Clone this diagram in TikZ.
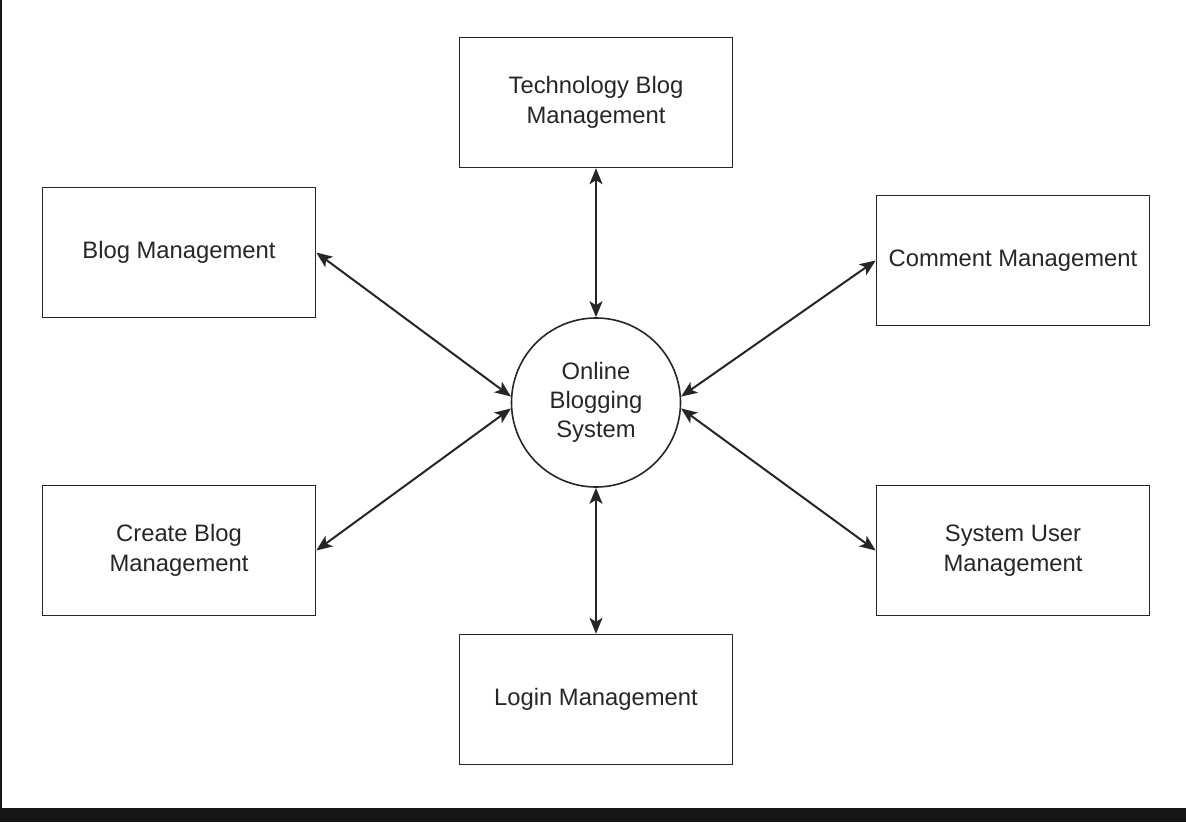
\documentclass[tikz,border=0pt]{standalone}
\usepackage{fontspec}
\setmainfont{Liberation Sans}
\usepackage{tikz}
\usetikzlibrary{arrows.meta,positioning}
\definecolor{framedark}{HTML}{171717}
\definecolor{inkgray}{HTML}{262626}
\tikzset{
  >={Stealth[length=16pt,width=13pt,inset=4pt]},
  module/.style={
    draw=inkgray, rectangle, align=center, inner sep=4pt, line width=1.6pt,
    font=\fontsize{23.8}{30}\selectfont, text=inkgray,
    minimum width=273pt, minimum height=130pt
  },
  hubnode/.style={
    draw=inkgray, circle, align=center, inner sep=0pt, line width=1.6pt,
    font=\fontsize{23.8}{29}\selectfont, text=inkgray, minimum size=169pt
  },
  link/.style={<->, draw=inkgray, line width=2pt},
}

\begin{document}
\begin{tikzpicture}[x=1pt,y=-1pt]
  \useasboundingbox (0,0) rectangle (1186,822);
  \fill[framedark] (0,808) rectangle (1186,822);
  \fill[framedark] (0,0) rectangle (1.6,808);
  % central process
  \node[hubnode] (hub) at (596,402.5) {Online\\Blogging\\System};
  % modules
  \node[module, above=149pt of hub] (tech) {Technology Blog\\Management};
  \node[module, below=146pt of hub] (login) {Login Management};
  \node[module] (blog) at (179,252.5) {Blog Management};
  \node[module] (create) at (179,550.5) {Create Blog\\Management};
  \node[module] (comment) at (1013,260.5) {Comment Management};
  \node[module] (sysuser) at (1013,550.5) {System User\\Management};
  \draw[link] (tech) -- (hub);
  \draw[link] (login) -- (hub);
  \draw[link] (blog.east) -- (hub.176);
  \draw[link] (create.east) -- (hub.184);
  \draw[link] (comment.west) -- (hub.4);
  \draw[link] (sysuser.west) -- (hub.-4);
\end{tikzpicture}
\end{document}
